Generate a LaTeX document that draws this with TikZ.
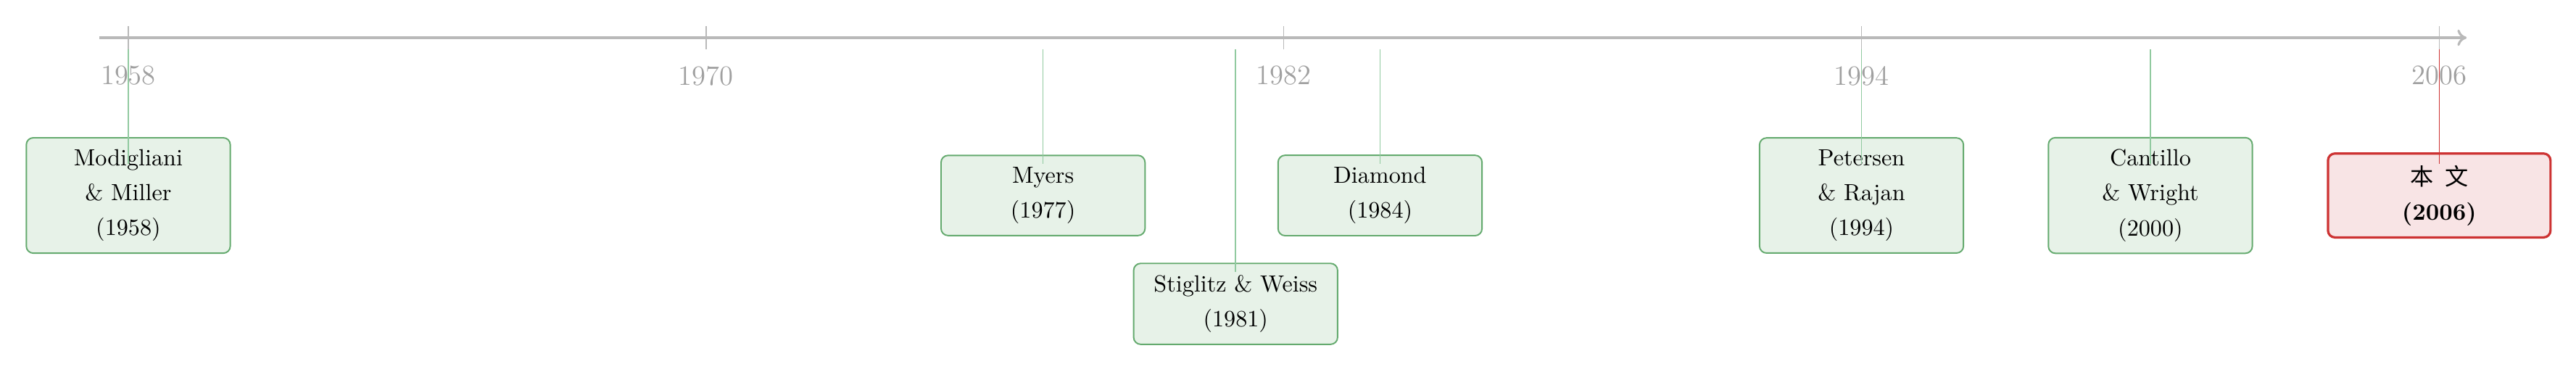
\documentclass[tikz,border=0pt]{standalone}
\usepackage{fontspec}
\newfontfamily\cjk{Noto Sans CJK SC}
\usepackage{tikz}
\usetikzlibrary{positioning, arrows.meta}
\usepackage{xcolor}
\definecolor{axisgray}{RGB}{185,185,185}
\definecolor{labelgray}{RGB}{160,160,160}
\definecolor{refgreen}{RGB}{100,170,110}
\definecolor{reffill}{RGB}{231,242,232}
\definecolor{stemgreen}{RGB}{145,202,160}
\definecolor{ourred}{RGB}{205,50,50}
\definecolor{ourfill}{RGB}{248,228,229}

\begin{document}
\begin{tikzpicture}[x=0.725cm, font=\fontsize{10}{15}\selectfont,
  axisline/.style={axisgray, line width=1pt, -{Computer Modern Rightarrow[length=4pt, width=7pt]}},
  yrtick/.style={axisgray, line width=0.45pt},
  yr/.style={text=labelgray, font=\large},
  paper/.style={draw=refgreen, fill=reffill, line width=0.6pt, rounded corners=3pt,
                align=center, text width=2.72cm, inner sep=5pt},
  ours/.style={draw=ourred, fill=ourfill, line width=1pt, rounded corners=3pt,
               align=center, text width=3.0cm, inner sep=5pt},
  stem/.style={stemgreen, line width=0.5pt},
]
  \useasboundingbox (-1.932cm,0.568cm) rectangle (36.86cm,-5.022cm);
  \coordinate (A0) at (-0.6,0);
  \coordinate (A1) at (48.57,0);
  \draw[axisline] (A0) -- (A1);
  \foreach \yr in {1958,1970,...,2006} {
    \coordinate (Ta\yr) at (\yr-1958,0.17);
    \coordinate (Tb\yr) at (\yr-1958,-0.17);
    \draw[yrtick] (Ta\yr) -- (Tb\yr);
    \node[yr] (Y\yr) at (\yr-1958,-0.573) {\yr};
  }
  % une boite par article, la ligne part de l'axe
  \foreach \yr/\ypos/\txt in {%
    1958/-2.375/{Modigliani\\ \& Miller\\ (1958)},%
    1977/-2.375/{Myers\\ (1977)},%
    1981/-4.007/{Stiglitz \& Weiss\\ (1981)},%
    1984/-2.375/{Diamond\\ (1984)},%
    1994/-2.375/{Petersen\\ \& Rajan\\ (1994)},%
    2000/-2.375/{Cantillo\\ \& Wright\\ (2000)}%
  } {
    \node[paper] (P\yr) at (\yr-1958,\ypos) {\txt};
    \coordinate (S\yr) at (\yr-1958,-0.17);
    \draw[stem] (S\yr) -- ([yshift=0.48cm]P\yr.center);
  }
  \node[ours] (P2006) at (48,-2.375) {{\cjk 本\enspace 文}\\ \textbf{(2006)}};
  \coordinate (S2006) at (48,-0.17);
  \draw[stem, ourred] (S2006) -- ([yshift=0.48cm]P2006.center);
\end{tikzpicture}
\end{document}
